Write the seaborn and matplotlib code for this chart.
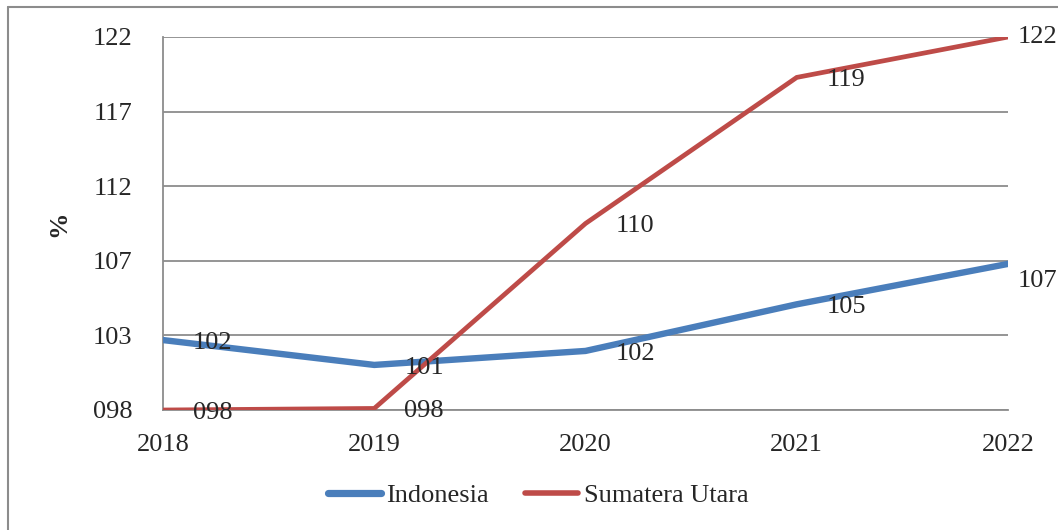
import matplotlib
matplotlib.use("Agg")
import matplotlib.pyplot as plt
import seaborn as sns
import pandas as pd
from matplotlib.lines import Line2D

years = ["2018", "2019", "2020", "2021", "2022"]
indonesia = [102.3, 100.7, 101.6, 104.6, 107.2]
sumut = [97.8, 97.9, 109.8, 119.2, 121.8]
series_names = ["Indonesia", "Sumatera Utara"]
y_ticks = [97.8, 102.6, 107.4, 112.2, 117.0, 121.8]
y_tick_labels = ["098", "103", "107", "112", "117", "122"]

sns.set_style("white")
plt.rcParams["font.family"] = ["Liberation Serif", "DejaVu Serif"]

df = pd.DataFrame({
    "year": list(range(len(years))) * 2,
    "value": indonesia + sumut,
    "series": [series_names[0]] * len(years) + [series_names[1]] * len(years),
})

colors = {"Indonesia": "#4A7EBB", "Sumatera Utara": "#BE4B48"}
widths = {"Indonesia": 4.6, "Sumatera Utara": 3.4}
FS = 19

fig = plt.figure(figsize=(10.58, 5.30), dpi=100)
ax = fig.add_axes([163/1058, 1 - 410/530, (1008-163)/1058, (410-37)/530])

for name in series_names:
    sub = df[df["series"] == name]
    sns.lineplot(data=sub, x="year", y="value", ax=ax, color=colors[name],
                 linewidth=widths[name], legend=False, solid_capstyle="round",
                 solid_joinstyle="miter", zorder=3)

ax.set_xlim(0, len(years) - 1)
ax.set_ylim(y_ticks[0], y_ticks[-1])
ax.set_yticks(y_ticks)
ax.set_yticklabels(y_tick_labels)
ax.set_xticks(range(len(years)))
ax.set_xticklabels(years)
ax.grid(axis="y", color="#8C8C8C", linewidth=1.3)
ax.set_axisbelow(True)
for s in ["top", "right"]:
    ax.spines[s].set_visible(False)
for s in ["left", "bottom"]:
    ax.spines[s].set_color("#8C8C8C")
    ax.spines[s].set_linewidth(1.3)
ax.tick_params(axis="y", length=0, pad=22, labelsize=FS)
ax.tick_params(axis="x", length=5, width=1.3, color="#8C8C8C", direction="out", pad=12, labelsize=FS)
ax.set_xlabel("")
ax.set_ylabel("%", fontsize=FS, fontweight="bold", labelpad=16)

# data labels
n = len(years)
for name, vals in [("Indonesia", indonesia), ("Sumatera Utara", sumut)]:
    for i, v in enumerate(vals):
        dx = 30 if i < n - 1 else 10
        dy = -3
        if i == n - 1 and name == "Indonesia":
            dy = -17
        if i == n - 1 and name == "Sumatera Utara":
            dy = 0
        ax.annotate(f"{v:03.0f}", (i, v), xytext=(dx * 0.72, dy * 0.72),
                    textcoords="offset points", ha="left", va="center",
                    fontsize=FS, annotation_clip=False, zorder=4)

handles = [Line2D([], [], color=colors[nm], linewidth=widths[nm] + 0.6, solid_capstyle="round")
           for nm in series_names]
fig.legend(handles, series_names, loc="center", bbox_to_anchor=(538/1058, 1 - 495/530),
           ncol=2, frameon=False, fontsize=FS, handlelength=2.0, handletextpad=0.2,
           columnspacing=1.4)

# chart border
fig.add_artist(Line2D([8/1058, 8/1058], [0, 1 - 7/530], transform=fig.transFigure,
                      color="#8C8C8C", linewidth=1.5))
fig.add_artist(Line2D([8/1058, 1], [1 - 7/530, 1 - 7/530], transform=fig.transFigure,
                      color="#8C8C8C", linewidth=1.5))

fig.savefig("out.png", dpi=100)
